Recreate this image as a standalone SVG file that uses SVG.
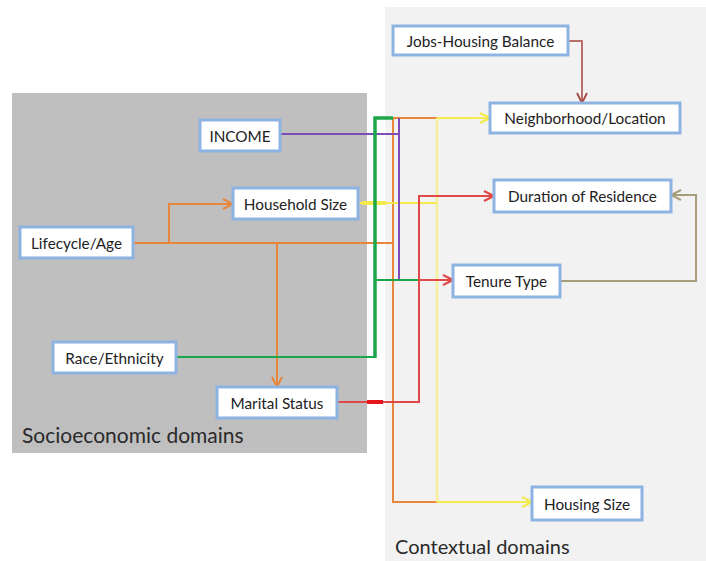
<svg xmlns="http://www.w3.org/2000/svg" width="706" height="561" viewBox="0 0 706 561">
  <style>
    .node rect { fill: #ffffff; stroke: #8db3e2; stroke-width: 3; }
    .node text { font-family: Lato, "Liberation Sans", sans-serif; font-size: 15.3px; fill: #222222; text-anchor: middle; dominant-baseline: central; }
    .domain { font-family: Lato, "Liberation Sans", sans-serif; fill: #2a2a2a; }
    .wire { fill: none; stroke-linejoin: miter; }
    .orange { stroke: #e8873c; stroke-width: 2; }
    .yellow { stroke: #f4ea4c; stroke-width: 2; }
    .yellow-pale { stroke: #f6f09a; stroke-width: 2.5; }
    .green { stroke: #1ea64c; stroke-width: 3.5; }
    .purple { stroke: #7e4cb5; stroke-width: 2; }
    .red { stroke: #e04848; stroke-width: 2; }
    .brown { stroke: #a6463e; stroke-width: 1.5; }
    .tan { stroke: #a89d7a; stroke-width: 2; }
  </style>
  <defs>
    <marker id="arr-orange" viewBox="0 0 12 12" refX="11" refY="6" markerWidth="12" markerHeight="12" markerUnits="userSpaceOnUse" orient="auto">
      <path d="M1,1 L11,6 L1,11" fill="none" stroke="#e8873c" stroke-width="2"/>
    </marker>
    <marker id="arr-yellow" viewBox="0 0 12 12" refX="11" refY="6" markerWidth="12" markerHeight="12" markerUnits="userSpaceOnUse" orient="auto">
      <path d="M1,1 L11,6 L1,11" fill="none" stroke="#f4ea4c" stroke-width="2.2"/>
    </marker>
    <marker id="arr-red" viewBox="0 0 12 12" refX="11" refY="6" markerWidth="12" markerHeight="12" markerUnits="userSpaceOnUse" orient="auto">
      <path d="M1,1 L11,6 L1,11" fill="none" stroke="#e04848" stroke-width="2.2"/>
    </marker>
    <marker id="arr-brown" viewBox="0 0 12 12" refX="11" refY="6" markerWidth="12" markerHeight="12" markerUnits="userSpaceOnUse" orient="auto">
      <path d="M1,1 L11,6 L1,11" fill="none" stroke="#a6463e" stroke-width="1.8"/>
    </marker>
    <marker id="arr-tan" viewBox="0 0 12 12" refX="11" refY="6" markerWidth="12" markerHeight="12" markerUnits="userSpaceOnUse" orient="auto">
      <path d="M1,1 L11,6 L1,11" fill="none" stroke="#a89d7a" stroke-width="2"/>
    </marker>
  </defs>

  <rect width="706" height="561" fill="#ffffff"/>

  <!-- domain panels -->
  <g id="contextual-panel">
    <rect x="385" y="7" width="321" height="554" fill="#f2f2f2"/>
    <text class="domain" x="395" y="554" font-size="20">Contextual domains</text>
  </g>
  <g id="socioeconomic-panel">
    <rect x="12" y="93" width="355" height="360" fill="#bfbfbf"/>
    <text class="domain" x="22" y="443" font-size="21">Socioeconomic  domains</text>
  </g>

  <!-- connectors -->
  <g id="connectors">
    <!-- Lifecycle/Age -->
    <path class="wire orange" d="M133,243 H393"/>
    <path class="wire orange" d="M169,243 V204 H233" marker-end="url(#arr-orange)"/>
    <path class="wire orange" d="M277,243 V387" marker-end="url(#arr-orange)"/>
    <path class="wire orange" d="M437,118 H393 V502 H437"/>
    <!-- Household Size and the yellow trunk -->
    <path class="wire yellow-pale" d="M437,118 V502"/>
    <path class="wire yellow" d="M358,203 H437"/>
    <path class="wire yellow" d="M362,203 H386" style="stroke-width:4"/>
    <path class="wire yellow" d="M437,118 H490" marker-end="url(#arr-yellow)"/>
    <path class="wire yellow" d="M437,502 H532" marker-end="url(#arr-yellow)"/>
    <!-- INCOME -->
    <path class="wire purple" d="M280,134 H399"/>
    <path class="wire purple" d="M399,118 V280"/>
    <!-- Race/Ethnicity -->
    <path class="wire green" d="M176,357 H375" style="stroke-width:2"/>
    <path class="wire green" d="M375,358 V118 H393"/>
    <path class="wire green" d="M375,280 H418" style="stroke-width:2.2"/>
    <!-- Marital Status -->
    <path class="wire red" d="M337,402 H419 V196 H494" marker-end="url(#arr-red)"/>
    <path class="wire red" d="M367,402 H383" style="stroke:#e8141c;stroke-width:4"/>
    <path class="wire red" d="M418,280 H453" marker-end="url(#arr-red)"/>
    <!-- Jobs-Housing Balance -->
    <path class="wire brown" d="M568,41 H582 V103" marker-end="url(#arr-brown)"/>
    <!-- Tenure Type -->
    <path class="wire tan" d="M560,281 H696 V195 H671" marker-end="url(#arr-tan)"/>
  </g>

  <!-- nodes -->
  <g id="jobs-housing" class="node">
    <rect x="393" y="26" width="175" height="29"/>
    <text x="480.5" y="41">Jobs-Housing Balance</text>
  </g>
  <g id="neighborhood" class="node">
    <rect x="490" y="103" width="190" height="30"/>
    <text x="585" y="118">Neighborhood/Location</text>
  </g>
  <g id="duration" class="node">
    <rect x="494" y="180" width="177" height="32"/>
    <text x="582.5" y="196">Duration of Residence</text>
  </g>
  <g id="tenure" class="node">
    <rect x="453" y="265" width="107" height="32"/>
    <text x="506.5" y="281">Tenure Type</text>
  </g>
  <g id="housing-size" class="node">
    <rect x="532" y="487" width="110" height="33"/>
    <text x="587" y="503.5">Housing Size</text>
  </g>
  <g id="income" class="node">
    <rect x="200" y="120" width="80" height="31"/>
    <text x="240" y="135.5">INCOME</text>
  </g>
  <g id="household-size" class="node">
    <rect x="233" y="188" width="125" height="31"/>
    <text x="295.5" y="203.5">Household Size</text>
  </g>
  <g id="lifecycle" class="node">
    <rect x="20" y="227" width="113" height="31"/>
    <text x="76.5" y="242.5">Lifecycle/Age</text>
  </g>
  <g id="race" class="node">
    <rect x="53" y="342" width="123" height="31"/>
    <text x="114.5" y="357.5">Race/Ethnicity</text>
  </g>
  <g id="marital" class="node">
    <rect x="217" y="387" width="120" height="31"/>
    <text x="277" y="402.5">Marital Status</text>
  </g>
</svg>
